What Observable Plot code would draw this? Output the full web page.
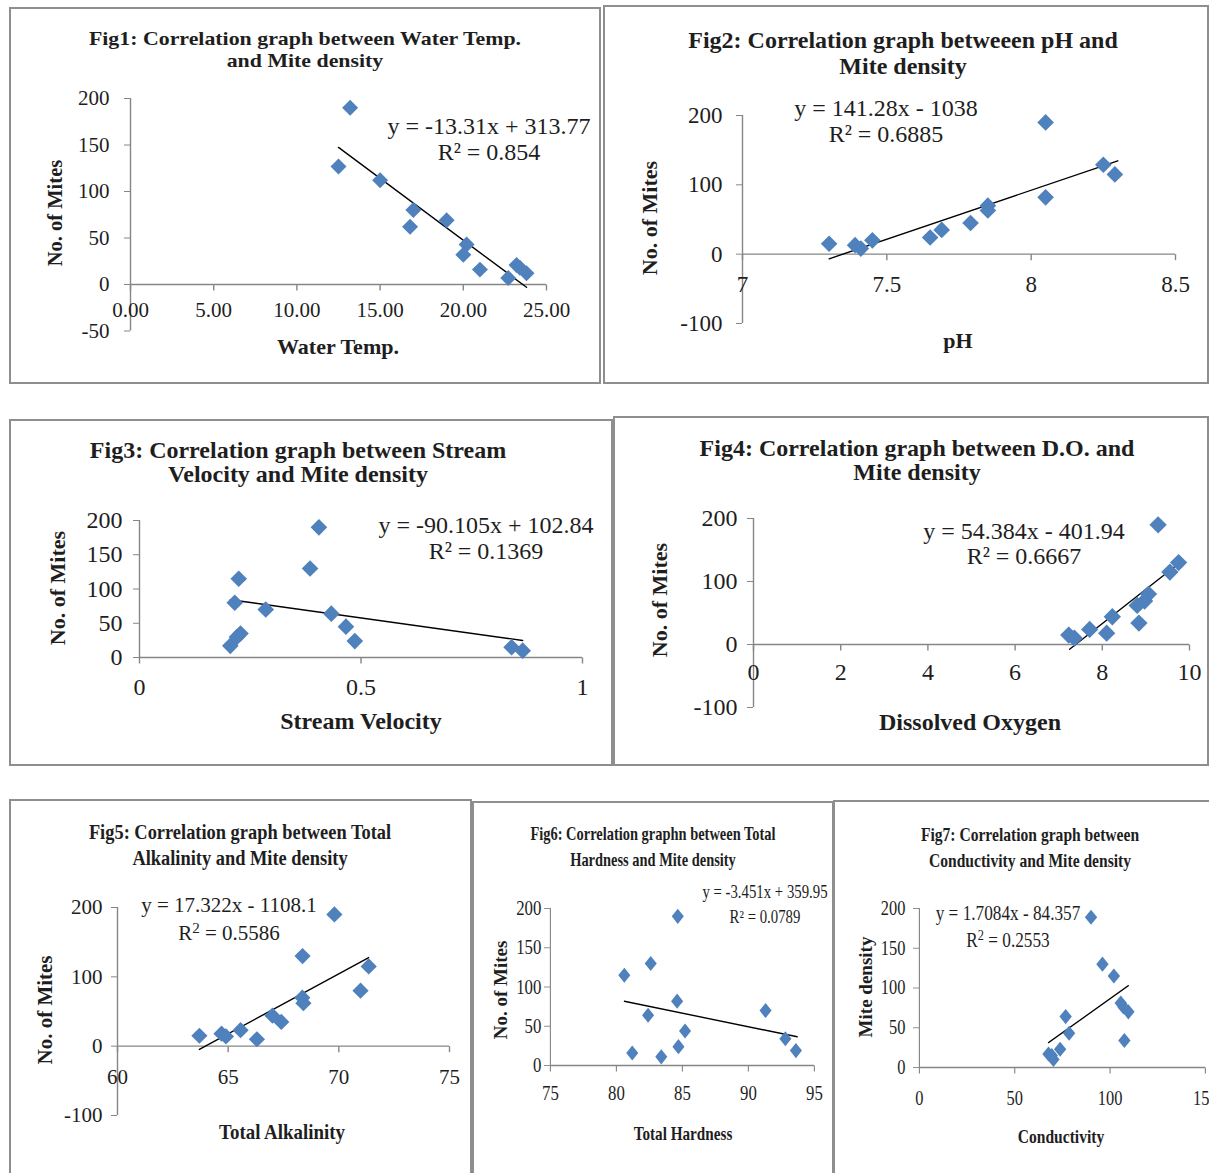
<!DOCTYPE html>
<html>
<head>
<meta charset="utf-8">
<script src="https://cdn.jsdelivr.net/npm/d3@7"></script>
<script src="https://cdn.jsdelivr.net/npm/@observablehq/plot@0.6"></script>
<style>
  html, body { margin: 0; padding: 0; background: #fff; }
  body { width: 1209px; height: 1173px; position: relative; overflow: hidden; }
  .wrap { position: absolute; overflow: hidden; }
  .border { position: absolute; box-sizing: border-box; border: 2px solid #8e8e8e; pointer-events: none; }
  .sup { font-size: 72%; position: relative; top: -0.45em; }
</style>
</head>
<body>
<script>
// ---------- DATA ----------
// Fig1: Water Temp. vs No. of Mites
const fig1Temp  = [13.2, 12.5, 15.0, 17.0, 16.8, 19.0, 20.2, 20.0, 21.0, 22.7, 23.2, 23.4, 23.8];
const fig1Mites = [190, 127, 112, 80, 62, 69, 43, 32, 16, 7, 21, 18, 12];
const fig1TrendX = [12.5, 23.8];
const fig1TrendY = [147.4, -3.0];
const fig1XTicks = [0, 5, 10, 15, 20, 25];
const fig1XLabels = ["0.00", "5.00", "10.00", "15.00", "20.00", "25.00"];
const fig1YTicks = [-50, 0, 50, 100, 150, 200];
const fig1YLabels = ["-50", "0", "50", "100", "150", "200"];
const fig1Title = ["Fig1: Correlation graph between Water Temp.", "and Mite density"];
const fig1Equation = ["y = -13.31x + 313.77", "R² = 0.854"];
const fig1AxisTitles = ["Water Temp.", "No. of Mites"];

// Fig2: pH
const fig2PH    = [7.30, 7.39, 7.41, 7.45, 7.65, 7.69, 7.79, 7.85, 7.85, 8.05, 8.05, 8.25, 8.29];
const fig2Mites = [15, 13, 8, 20, 24, 35, 45, 70, 63, 190, 82, 129, 115];
const fig2TrendX = [7.30, 8.30];
const fig2TrendY = [-6.7, 134.6];
const fig2XTicks = [7, 7.5, 8, 8.5];
const fig2XLabels = ["7", "7.5", "8", "8.5"];
const fig2YTicks = [-100, 0, 100, 200];
const fig2YLabels = ["-100", "0", "100", "200"];
const fig2Title = ["Fig2: Correlation graph betweeen pH and", "Mite density"];
const fig2Equation = ["y = 141.28x - 1038", "R² = 0.6885"];
const fig2AxisTitles = ["pH", "No. of Mites"];

// Fig3: Stream Velocity
const fig3Vel   = [0.405, 0.385, 0.224, 0.215, 0.285, 0.433, 0.466, 0.486, 0.228, 0.220, 0.205, 0.840, 0.865];
const fig3Mites = [190, 130, 115, 80, 70, 64, 45, 24, 35, 30, 17, 15, 10];
const fig3TrendX = [0.205, 0.865];
const fig3TrendY = [84.4, 24.9];
const fig3XTicks = [0, 0.5, 1];
const fig3XLabels = ["0", "0.5", "1"];
const fig3YTicks = [0, 50, 100, 150, 200];
const fig3YLabels = ["0", "50", "100", "150", "200"];
const fig3Title = ["Fig3: Correlation graph between Stream", "Velocity and Mite density"];
const fig3Equation = ["y = -90.105x + 102.84", "R² = 0.1369"];
const fig3AxisTitles = ["Stream Velocity", "No. of Mites"];

// Fig4: Dissolved Oxygen
const fig4DO    = [9.28, 9.75, 9.55, 9.06, 8.97, 8.80, 8.84, 8.23, 8.10, 7.71, 7.23, 7.36];
const fig4Mites = [190, 130, 115, 80, 69, 62, 34, 44, 18, 24, 15, 10];
const fig4TrendX = [7.25, 9.76];
const fig4TrendY = [-7.6, 128.9];
const fig4XTicks = [0, 2, 4, 6, 8, 10];
const fig4XLabels = ["0", "2", "4", "6", "8", "10"];
const fig4YTicks = [-100, 0, 100, 200];
const fig4YLabels = ["-100", "0", "100", "200"];
const fig4Title = ["Fig4: Correlation graph between D.O. and", "Mite density"];
const fig4Equation = ["y = 54.384x - 401.94", "R² = 0.6667"];
const fig4AxisTitles = ["Dissolved Oxygen", "No. of Mites"];

// Fig5: Total Alkalinity
const fig5Alk   = [69.8, 68.36, 71.35, 70.98, 68.35, 68.4, 67.0, 67.4, 65.56, 66.3, 64.7, 63.7, 64.9];
const fig5Mites = [190, 130, 115, 80, 70, 62, 44, 35, 23, 10, 18, 15, 14];
const fig5TrendX = [63.7, 71.35];
const fig5TrendY = [-4.7, 127.8];
const fig5XTicks = [60, 65, 70, 75];
const fig5XLabels = ["60", "65", "70", "75"];
const fig5YTicks = [-100, 0, 100, 200];
const fig5YLabels = ["-100", "0", "100", "200"];
const fig5Title = ["Fig5: Correlation graph between Total", "Alkalinity and Mite density"];
const fig5Equation = ["y = 17.322x - 1108.1", "R<span class='sup'>2</span> = 0.5586"];
const fig5AxisTitles = ["Total Alkalinity", "No. of Mites"];

// Fig6: Total Hardness
const fig6Hard  = [84.65, 82.6, 80.6, 84.6, 91.3, 82.4, 85.2, 84.7, 92.8, 93.6, 81.2, 83.4];
const fig6Mites = [190, 130, 115, 82, 70, 64, 44, 24, 34, 19, 16, 11];
const fig6TrendX = [80.6, 93.7];
const fig6TrendY = [81.8, 36.6];
const fig6XTicks = [75, 80, 85, 90, 95];
const fig6XLabels = ["75", "80", "85", "90", "95"];
const fig6YTicks = [0, 50, 100, 150, 200];
const fig6YLabels = ["0", "50", "100", "150", "200"];
const fig6Title = ["Fig6: Correlation graphn between Total", "Hardness and Mite density"];
const fig6Equation = ["y = -3.451x + 359.95", "R² = 0.0789"];
const fig6AxisTitles = ["Total Hardness", "No. of Mites"];

// Fig7: Conductivity
const fig7Cond  = [90, 96, 102, 105.6, 109.6, 107, 76.7, 78.5, 107.5, 73.8, 67.7, 70.3, 69.4];
const fig7Mites = [189, 130, 115, 81, 70, 76, 64, 43, 34, 23, 17, 10, 15];
const fig7TrendX = [67.7, 109.6];
const fig7TrendY = [31.3, 102.9];
const fig7XTicks = [0, 50, 100, 150];
const fig7XLabels = ["0", "50", "100", "150"];
const fig7YTicks = [0, 50, 100, 150, 200];
const fig7YLabels = ["0", "50", "100", "150", "200"];
const fig7Title = ["Fig7: Correlation graph between", "Conductivity and Mite density"];
const fig7Equation = ["y = 1.7084x - 84.357", "R<span class='sup'>2</span> = 0.2553"];
const fig7AxisTitles = ["Conductivity", "Mite density"];

// ---------- RENDERING ----------
const FONT = '"Liberation Serif", "Times New Roman", serif';
const BLUE = "#4F81BD";
const AXIS = "#868686";
const INK = "#1e1e1e";

// a short downward tick used for the x axis that sits on y = 0
const tickDown = {draw(context) { context.moveTo(0, 0); context.lineTo(0, 6); }};

function label(html, cx, cy, size, opts = {}) {
  const {bold = false, sx = 1, rot = 0} = opts;
  const d = document.createElement("div");
  d.innerHTML = html;
  d.style.cssText = `position:absolute;left:${cx}px;top:${cy}px;white-space:nowrap;font-family:${FONT};` +
    `font-size:${size}px;line-height:1;color:${INK};font-weight:${bold ? 700 : 400};` +
    `transform:translate(-50%,-50%) rotate(${rot}deg) scaleX(${sx});transform-origin:50% 50%;`;
  document.body.appendChild(d);
}

function panel(p) {
  const [L, T, W, H] = p.box;
  const sx = p.sx || 1;
  const wrap = document.createElement("div");
  wrap.className = "wrap";
  wrap.style.left = L + "px"; wrap.style.top = T + "px";
  wrap.style.width = W + "px"; wrap.style.height = H + "px";
  document.body.appendChild(wrap);

  const pts = p.xs.map((x, i) => ({x, y: p.ys[i]}));
  const trend = p.trendX.map((x, i) => ({x, y: p.trendY[i]}));
  const x0 = p.xDomain[0], x1 = p.xDomain[1];

  const chart = Plot.plot({
    width: W / sx,
    height: H,
    marginLeft: (p.px.x0 - L) / sx,
    marginRight: (L + W - p.px.x1) / sx,
    marginTop: p.px.yTop - T,
    marginBottom: T + H - p.px.yBottom,
    x: {domain: p.xDomain, axis: null},
    y: {domain: p.yDomain},
    style: {fontFamily: FONT, background: "transparent", color: INK, maxWidth: "none", overflow: "visible"},
    marks: [
      Plot.ruleY([0], {x1: () => x0, x2: () => x1, stroke: AXIS, strokeWidth: 1.4}),
      Plot.ruleX([x0], {y1: () => p.yDomain[0], y2: () => p.yDomain[1], stroke: AXIS, strokeWidth: 1.4}),
      Plot.dot(p.xTicks, {x: d => d, y: () => 0, symbol: tickDown, r: 3, fill: "none", stroke: AXIS, strokeWidth: 1.4}),
      Plot.axisY(p.yTicks, {
        anchor: "left", tickSize: 6 / sx, tickPadding: p.yPad / sx,
        tickFormat: d => p.yLabels[p.yTicks.indexOf(d)],
        fontSize: p.tick, stroke: AXIS, fill: INK, label: null
      }),
      Plot.text(p.xTicks, {
        x: d => d, y: () => 0, dy: p.xDy,
        text: d => p.xLabels[p.xTicks.indexOf(d)],
        fontSize: p.tick, fill: INK, lineAnchor: "middle"
      }),
      Plot.line(trend, {x: "x", y: "y", stroke: "#000", strokeWidth: 1.4}),
      Plot.dot(pts, {x: "x", y: "y", symbol: "diamond2", r: p.r || 7.3, fill: BLUE, stroke: "none"})
    ]
  });
  chart.style.position = "absolute";
  chart.style.left = "0px";
  chart.style.top = "0px";
  chart.style.transformOrigin = "0 0";
  chart.style.transform = `scaleX(${sx})`;
  wrap.appendChild(chart);

  const b = document.createElement("div");
  b.className = "border";
  b.style.left = L + "px"; b.style.top = T + "px";
  b.style.width = W + "px"; b.style.height = H + "px";
  document.body.appendChild(b);

  const tsx = p.titleSx || sx, esx = p.eqSx || sx, asx = p.axisSx || sx;
  p.title.forEach((t, i) => label(t, p.titlePos[0], p.titlePos[1] + i * p.titleGap, p.titleSize, {bold: true, sx: tsx}));
  p.equation.forEach((t, i) => label(t, p.eqPos[0], p.eqPos[1] + i * p.eqGap, p.eqSize, {sx: esx}));
  label(p.axisTitles[0], p.xTitlePos[0], p.xTitlePos[1], p.axisSize, {bold: true, sx: asx});
  label(p.axisTitles[1], p.yTitlePos[0], p.yTitlePos[1], p.yAxisSize || p.axisSize, {bold: true, rot: -90});
}

panel({
  box: [9, 7, 592, 377], xs: fig1Temp, ys: fig1Mites, trendX: fig1TrendX, trendY: fig1TrendY,
  xDomain: [0, 25], yDomain: [-50, 200], px: {x0: 130, x1: 546, yTop: 98, yBottom: 330.5},
  xTicks: fig1XTicks, xLabels: fig1XLabels, yTicks: fig1YTicks, yLabels: fig1YLabels,
  yPad: 15, xDy: 26, tick: 21, r: 7.2,
  title: fig1Title, titlePos: [305, 38], titleGap: 22, titleSize: 19, titleSx: 1.15,
  equation: fig1Equation, eqPos: [489, 126], eqGap: 26, eqSize: 24,
  axisTitles: fig1AxisTitles, xTitlePos: [338, 347], yTitlePos: [55, 213], axisSize: 21, axisSx: 1.05, yAxisSize: 20.5
});

panel({
  box: [603, 5, 606, 379], xs: fig2PH, ys: fig2Mites, trendX: fig2TrendX, trendY: fig2TrendY,
  xDomain: [7, 8.5], yDomain: [-100, 200], px: {x0: 742, x1: 1175, yTop: 115, yBottom: 323},
  xTicks: fig2XTicks, xLabels: fig2XLabels, yTicks: fig2YTicks, yLabels: fig2YLabels,
  yPad: 14, xDy: 30, tick: 23, r: 7.5,
  title: fig2Title, titlePos: [903, 40], titleGap: 26, titleSize: 24,
  equation: fig2Equation, eqPos: [886, 108], eqGap: 26, eqSize: 24,
  axisTitles: fig2AxisTitles, xTitlePos: [958, 341], yTitlePos: [650, 218], axisSize: 22
});

panel({
  box: [9, 419, 604, 347], xs: fig3Vel, ys: fig3Mites, trendX: fig3TrendX, trendY: fig3TrendY,
  xDomain: [0, 1], yDomain: [0, 200], px: {x0: 139, x1: 582, yTop: 520, yBottom: 657},
  xTicks: fig3XTicks, xLabels: fig3XLabels, yTicks: fig3YTicks, yLabels: fig3YLabels,
  yPad: 11, xDy: 30, tick: 24, r: 7.5,
  title: fig3Title, titlePos: [298, 450], titleGap: 24, titleSize: 24,
  equation: fig3Equation, eqPos: [486, 525], eqGap: 26, eqSize: 24,
  axisTitles: fig3AxisTitles, xTitlePos: [361, 721], yTitlePos: [58, 588], axisSize: 24, yAxisSize: 22
});

panel({
  box: [613, 416, 596, 350], xs: fig4DO, ys: fig4Mites, trendX: fig4TrendX, trendY: fig4TrendY,
  xDomain: [0, 10], yDomain: [-100, 200], px: {x0: 753, x1: 1189, yTop: 518, yBottom: 707},
  xTicks: fig4XTicks, xLabels: fig4XLabels, yTicks: fig4YTicks, yLabels: fig4YLabels,
  yPad: 10, xDy: 28, tick: 24, r: 7.8,
  title: fig4Title, titlePos: [917, 448], titleGap: 24, titleSize: 24,
  equation: fig4Equation, eqPos: [1024, 531], eqGap: 25, eqSize: 24,
  axisTitles: fig4AxisTitles, xTitlePos: [970, 722], yTitlePos: [660, 600], axisSize: 24, yAxisSize: 22
});

panel({
  box: [9, 799, 463, 380], xs: fig5Alk, ys: fig5Mites, trendX: fig5TrendX, trendY: fig5TrendY,
  xDomain: [60, 75], yDomain: [-100, 200], px: {x0: 117, x1: 449, yTop: 907, yBottom: 1115},
  xTicks: fig5XTicks, xLabels: fig5XLabels, yTicks: fig5YTicks, yLabels: fig5YLabels,
  yPad: 9, xDy: 31, tick: 21, r: 7.3,
  title: fig5Title, titlePos: [240, 832], titleGap: 26, titleSize: 20, titleSx: 0.92,
  equation: fig5Equation, eqPos: [229, 905], eqGap: 28, eqSize: 21,
  axisTitles: fig5AxisTitles, xTitlePos: [282, 1132], yTitlePos: [45, 1010], axisSize: 21, axisSx: 0.9
});

panel({
  box: [472, 801, 362, 380], sx: 0.8, xs: fig6Hard, ys: fig6Mites, trendX: fig6TrendX, trendY: fig6TrendY,
  xDomain: [75, 95], yDomain: [0, 200], px: {x0: 550, x1: 814, yTop: 908, yBottom: 1065},
  xTicks: fig6XTicks, xLabels: fig6XLabels, yTicks: fig6YTicks, yLabels: fig6YLabels,
  yPad: 3, xDy: 28, tick: 21, r: 6.8,
  title: fig6Title, titlePos: [653, 833], titleGap: 26, titleSize: 19, titleSx: 0.76,
  equation: fig6Equation, eqPos: [765, 892], eqGap: 25, eqSize: 18.5,
  axisTitles: fig6AxisTitles, xTitlePos: [683, 1133], yTitlePos: [500, 990], axisSize: 19
});

panel({
  box: [833, 800, 378, 380], sx: 0.82, xs: fig7Cond, ys: fig7Mites, trendX: fig7TrendX, trendY: fig7TrendY,
  xDomain: [0, 150], yDomain: [0, 200], px: {x0: 919, x1: 1205, yTop: 908, yBottom: 1067},
  xTicks: fig7XTicks, xLabels: fig7XLabels, yTicks: fig7YTicks, yLabels: fig7YLabels,
  yPad: 8, xDy: 31, tick: 20, r: 6.8,
  title: fig7Title, titlePos: [1030, 834], titleGap: 26, titleSize: 19,
  equation: fig7Equation, eqPos: [1008, 913], eqGap: 27, eqSize: 21,
  axisTitles: fig7AxisTitles, xTitlePos: [1061, 1136], yTitlePos: [865, 987], axisSize: 19
});
</script>
</body>
</html>
